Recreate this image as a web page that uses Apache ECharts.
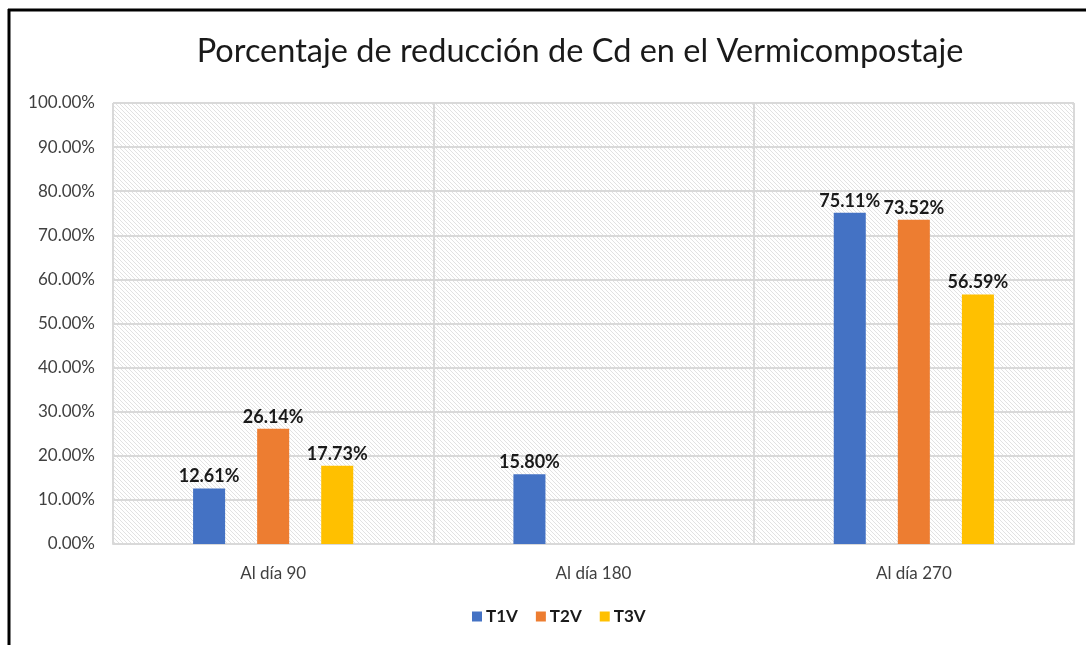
<!DOCTYPE html>
<html>
<head>
<meta charset="utf-8">
<script src="https://cdn.jsdelivr.net/npm/echarts@6/dist/echarts.min.js"></script>
<style>
  html, body { margin: 0; padding: 0; background: #fff; }
  #main { width: 1086px; height: 645px; }
</style>
</head>
<body>
<div id="main"></div>
<script>
const categories = ['Al día 90', 'Al día 180', 'Al día 270']
const seriesNames = ['T1V', 'T2V', 'T3V']
const t1v = [12.61, 15.80, 75.11]
const t2v = [26.14, null, 73.52]
const t3v = [17.73, null, 56.59]
const colors = ['#4472C4', '#ED7D31', '#FFC000']

// hatched background for the plot area
const hatch = document.createElement('canvas')
hatch.width = 4
hatch.height = 4
const hc = hatch.getContext('2d')
hc.strokeStyle = '#e2e2e2'
hc.lineWidth = 1
hc.beginPath()
hc.moveTo(-1, -1); hc.lineTo(5, 5)
hc.moveTo(-1, 3); hc.lineTo(1, 5)
hc.moveTo(3, -1); hc.lineTo(5, 1)
hc.stroke()

const font = 'Lato, "Open Sans", sans-serif'

const chart = echarts.init(document.getElementById('main'))

const makeSeries = (name, data, i) => ({
  name: name,
  type: 'bar',
  data: data,
  barGap: '100%',
  barCategoryGap: '50%',
  itemStyle: { color: colors[i] },
  label: {
    show: true,
    position: 'top',
    distance: 3,
    fontFamily: font,
    fontWeight: 'bold',
    fontSize: 18,
    color: '#1a1a1a',
    formatter: p => p.value.toFixed(2) + '%'
  }
})

chart.setOption({
  animation: false,
  textStyle: { fontFamily: font },
  title: {
    text: 'Porcentaje de reducción de Cd en el Vermicompostaje',
    left: 575,
    textAlign: 'center',
    top: 30,
    textStyle: { fontFamily: font, fontWeight: 'normal', fontSize: 32.5, color: '#1a1a1a' }
  },
  legend: {
    data: seriesNames,
    bottom: 15,
    left: 467,
    itemWidth: 10,
    itemHeight: 10,
    itemGap: 18,
    icon: 'rect',
    textStyle: { fontFamily: font, fontWeight: 'bold', fontSize: 17, color: '#1a1a1a', padding: [0, 0, 0, -1] }
  },
  grid: {
    left: 113,
    right: 12,
    top: 103,
    bottom: 101,
    show: true,
    borderWidth: 0,
    backgroundColor: { image: hatch, repeat: 'repeat' }
  },
  xAxis: {
    type: 'category',
    data: categories,
    axisLine: { lineStyle: { color: '#d9d9d9', width: 2 } },
    axisTick: { show: false },
    splitLine: { show: true, lineStyle: { color: '#d9d9d9', width: 2 } },
    axisLabel: { fontFamily: font, fontSize: 17, color: '#404040', margin: 21 }
  },
  yAxis: {
    type: 'value',
    min: 0,
    max: 100,
    interval: 10,
    axisLine: { show: false },
    axisTick: { show: false },
    splitLine: { lineStyle: { color: '#d9d9d9', width: 2 } },
    axisLabel: {
      fontFamily: font,
      fontSize: 17,
      color: '#404040',
      margin: 18,
      formatter: v => v.toFixed(2) + '%'
    }
  },
  graphic: [
    { type: 'line', shape: { x1: 8, y1: 10, x2: 1086, y2: 10 }, style: { stroke: '#000', lineWidth: 3 } },
    { type: 'line', shape: { x1: 9, y1: 9, x2: 9, y2: 645 }, style: { stroke: '#000', lineWidth: 3 } }
  ],
  series: [
    makeSeries(seriesNames[0], t1v, 0),
    makeSeries(seriesNames[1], t2v, 1),
    makeSeries(seriesNames[2], t3v, 2)
  ]
})
</script>
</body>
</html>
